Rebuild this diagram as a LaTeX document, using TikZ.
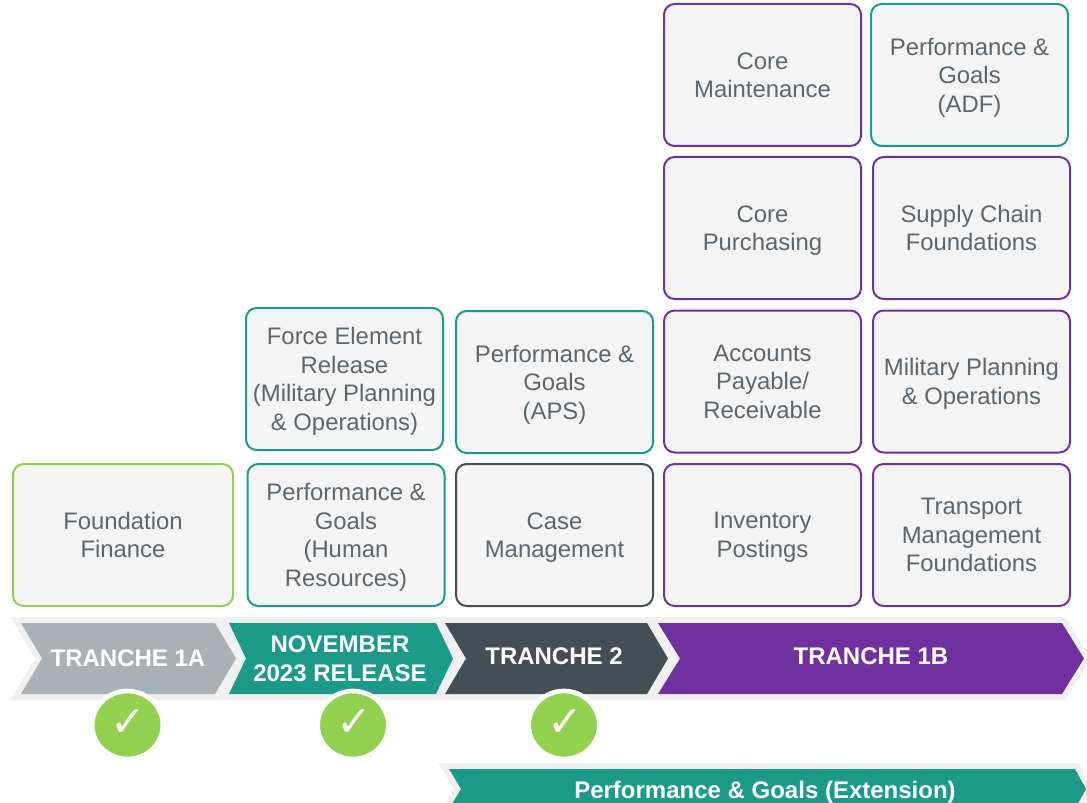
\documentclass[tikz,border=0pt]{standalone}
\usepackage{fontspec}
\setmainfont{Liberation Sans}
\newfontfamily\tickfont{DejaVu Sans}
\usetikzlibrary{shapes.geometric}
\definecolor{tilefill}{HTML}{F4F4F4}
\definecolor{tiletext}{HTML}{5B6770}
\definecolor{edgegray}{HTML}{F0F0F0}
\definecolor{lightgray}{HTML}{A9B1B7}
\definecolor{teal}{HTML}{1B9A8A}
\definecolor{slate}{HTML}{434F56}
\definecolor{violet}{HTML}{7030A0}
\definecolor{leaf}{HTML}{92D050}
\tikzset{
	tilebox/.style={draw=#1, fill=tilefill, text=tiletext, line width=1.5pt, rounded corners=8pt, inner sep=0pt, align=center, minimum width=147.75pt, minimum height=106.5pt, font=\fontsize{17.9}{21.45}\selectfont, text depth=-2.6pt},
	bandlabel/.style={text=white, inner sep=0pt, align=center, font=\fontsize{18}{21.4}\selectfont\bfseries},
	donebadge/.style={ellipse, fill=leaf, draw=white, line width=3.5pt, minimum width=53pt, minimum height=51pt, inner sep=0pt},
	donetick/.style={text=white, inner sep=0pt, font=\fontsize{32}{32}\tickfont}
}
% colour, left, notch, right, tip, top, bottom
\def\chevron[#1](#2,#3,#4,#5,#6,#7){\path[preaction={draw=edgegray, line width=9pt}, fill=#1] (#2, #6) -- (#4, #6) -- (#5, {(#6+#7)/2}) -- (#4, #7) -- (#2, #7) -- (#3, {(#6+#7)/2}) -- cycle;}

\begin{document}
\begin{tikzpicture}[x=0.75pt, y=-0.75pt]
	\clip (0, 0) rectangle (1087, 802);

	\node[tilebox=leaf, minimum width=165pt] (foundation) at (123, 535) {Foundation\\Finance};

	\node[tilebox=teal] (perfhr) at (346, 535) {Performance \&\\Goals\\(Human\\Resources)};
	\node[tilebox=teal] (force) at (344.5, 379) {Force Element\\Release\\(Military Planning\\\& Operations)};

	\node[tilebox=slate] (casemgmt) at (554.5, 535) {Case\\Management};
	\node[tilebox=teal] (perfaps) at (554.5, 382) {Performance \&\\Goals\\(APS)};

	\node[tilebox=violet] (inventory) at (762.5, 535) {Inventory\\Postings};
	\node[tilebox=violet] (accounts) at (762.5, 381.5) {Accounts\\Payable/\\Receivable};
	\node[tilebox=violet] (purchasing) at (762.5, 228) {Core\\Purchasing};
	\node[tilebox=violet] (maintenance) at (762.5, 75) {Core\\Maintenance};

	\node[tilebox=violet] (transport) at (971.5, 535) {Transport\\Management\\Foundations};
	\node[tilebox=violet] (military) at (971.5, 381.5) {Military Planning\\\& Operations};
	\node[tilebox=violet] (supply) at (971.5, 228) {Supply Chain\\Foundations};
	\node[tilebox=teal] (perfadf) at (969.5, 75) {Performance \&\\Goals\\(ADF)};

	\chevron[lightgray](21, 42, 215, 236, 623, 694);
	\chevron[teal](229, 246, 436, 453, 623, 694);
	\chevron[slate](445, 466, 647, 668, 623, 694);
	\chevron[violet](658, 680, 1062, 1084, 623, 694);
	\chevron[teal](449, 461, 1075, 1086, 769, 809);

	\node[bandlabel] (tranchea) at (128, 658.5) {TRANCHE 1A};
	\node[bandlabel] (november) at (340, 658.5) {NOVEMBER\\2023 RELEASE};
	\node[bandlabel] (tranchetwo) at (554, 656) {TRANCHE 2};
	\node[bandlabel] (trancheb) at (871, 656.5) {TRANCHE 1B};
	\node[bandlabel] (extension) at (765, 792) {Performance \& Goals (Extension)};

	\node[donebadge] (donea) at (127.5, 725) {};
	\node[donebadge] (donenov) at (353, 725) {};
	\node[donebadge] (donetwo) at (564, 725) {};
	\node[donetick] (ticka) at (128.5, 723) {✓};
	\node[donetick] (ticknov) at (354, 723) {✓};
	\node[donetick] (ticktwo) at (565, 723) {✓};
\end{tikzpicture}
\end{document}
